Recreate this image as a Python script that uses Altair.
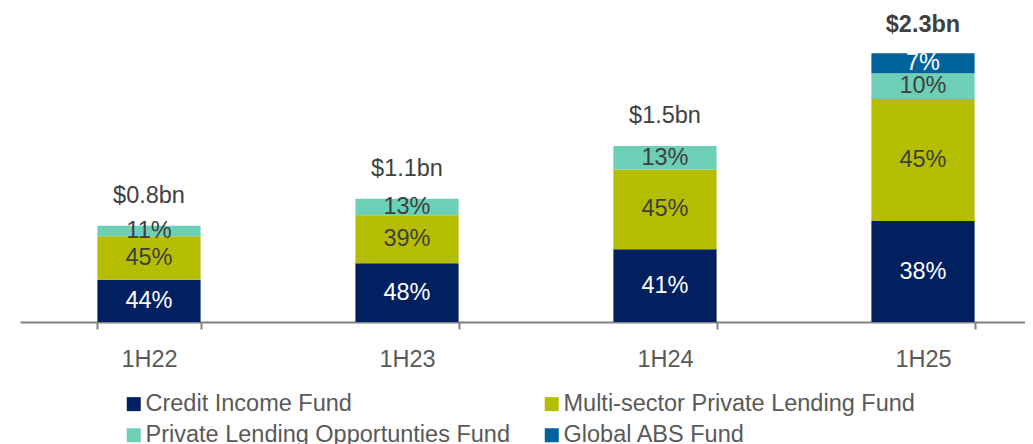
import altair as alt
import pandas as pd

periods = ["1H22", "1H23", "1H24", "1H25"]
funds = [
    "Credit Income Fund",
    "Multi-sector Private Lending Fund",
    "Private Lending Opportunties Fund",
    "Global ABS Fund",
]
fund_colors = ["#002060", "#B5BD00", "#6DCFB5", "#00629B"]
label_colors = ["#FFFFFF", "#404040", "#404040", "#FFFFFF"]
# legend is laid out column by column, so list entries in that order
legend_order = [0, 2, 1, 3]

# Fund size in $bn per period
credit_income = [0.36, 0.50, 0.62, 0.86]
multi_sector = [0.37, 0.41, 0.68, 1.04]
private_lending_opp = [0.09, 0.14, 0.20, 0.22]
global_abs = [0.0, 0.0, 0.0, 0.17]

# Share labels shown inside the segments
credit_share = ["44%", "48%", "41%", "38%"]
multi_share = ["45%", "39%", "45%", "45%"]
plo_share = ["11%", "13%", "13%", "10%"]
abs_share = ["", "", "", "7%"]

total_labels = ["$0.8bn", "$1.1bn", "$1.5bn", "$2.3bn"]
total_bold = [False, False, False, True]

FONT = "Liberation Sans"
FS = 23.5

series = [credit_income, multi_sector, private_lending_opp, global_abs]
shares = [credit_share, multi_share, plo_share, abs_share]
rows = []
for fi, (vals, labs) in enumerate(zip(series, shares)):
    for pi, p in enumerate(periods):
        if vals[pi] > 0:
            rows.append({
                "period": p,
                "fund": funds[fi],
                "idx": fi,
                "value": vals[pi],
                "share": labs[pi],
                "tcolor": label_colors[fi],
            })
df = pd.DataFrame(rows)

tot = pd.DataFrame({
    "period": periods,
    "top": [sum(s[i] for s in series) for i in range(len(periods))],
    "label": total_labels,
    "bold": total_bold,
})

x_scale = alt.Scale(domain=periods, paddingInner=0.6, paddingOuter=0.3, range=[0, 1032])
x_enc = alt.X(
    "period:N",
    sort=periods,
    scale=x_scale,
    axis=alt.Axis(
        title=None,
        labelAngle=0,
        tickBand="extent",
        domainColor="#808080",
        domainWidth=2,
        tickColor="#808080",
        tickWidth=2,
        tickSize=7,
        labelFont=FONT,
        labelFontSize=FS,
        labelColor="#595959",
        labelPadding=18,
    ),
)
y_scale = alt.Scale(domain=[0, 2.6], nice=False, zero=True)

bars = alt.Chart(df).mark_bar().encode(
    x=x_enc,
    y=alt.Y("value:Q", stack="zero", scale=y_scale, axis=None),
    color=alt.Color(
        "fund:N",
        scale=alt.Scale(
            domain=[funds[i] for i in legend_order],
            range=[fund_colors[i] for i in legend_order],
        ),
        legend=alt.Legend(
            title=None,
            orient="none",
            legendX=99,
            legendY=375,
            padding=0,
            columns=2,
            symbolType="square",
            symbolSize=196,
            symbolOffset=3,
            symbolStrokeWidth=0,
            symbolOpacity=1,
            labelFont=FONT,
            labelFontSize=FS,
            labelColor="#595959",
            labelLimit=700,
            labelOffset=0,
            columnPadding=27,
            rowPadding=6.5,
        ),
    ),
    order=alt.Order("idx:Q", sort="ascending"),
)

seg_text = alt.Chart(df).transform_stack(
    stack="value",
    as_=["y0", "y1"],
    groupby=["period"],
    sort=[alt.SortField("idx", order="ascending")],
).transform_calculate(
    mid="(datum.y0 + datum.y1) / 2"
).mark_text(font=FONT, fontSize=FS, baseline="middle", align="center").encode(
    x=alt.X("period:N", sort=periods, scale=x_scale),
    y=alt.Y("mid:Q", scale=y_scale),
    text="share:N",
    fill=alt.Fill("tcolor:N", scale=None, legend=None),
)

tot_text = alt.Chart(tot).transform_filter("!datum.bold").mark_text(
    font=FONT, fontSize=FS, baseline="middle", align="center", dy=-30, color="#404040"
).encode(
    x=alt.X("period:N", sort=periods, scale=x_scale),
    y=alt.Y("top:Q", scale=y_scale),
    text="label:N",
)

tot_bold = alt.Chart(tot).transform_filter("datum.bold").mark_text(
    font=FONT, fontSize=FS, fontWeight="bold", baseline="middle", align="center", dy=-28, color="#404040"
).encode(
    x=alt.X("period:N", sort=periods, scale=x_scale),
    y=alt.Y("top:Q", scale=y_scale),
    text="label:N",
)

chart = alt.layer(bars, seg_text, tot_text, tot_bold).properties(
    width=1005,
    height=305,
    padding={"left": 12, "top": 9, "right": 0, "bottom": 122},
    autosize=alt.AutoSizeParams(type="none"),
    background="white",
).configure_view(stroke=None)

chart.save("out.html", embed_options={"renderer": "svg", "actions": False})
